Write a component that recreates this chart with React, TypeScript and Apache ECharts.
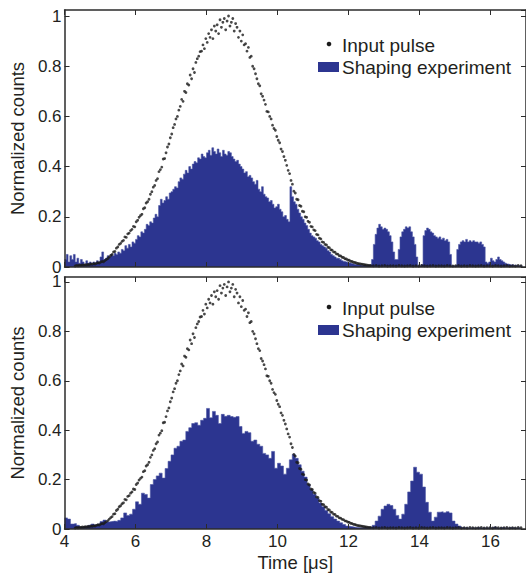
import React, { useEffect, useRef } from "react";
import * as echarts from "echarts";

// ---------- data ----------
const X_MIN = 4;
const X_MAX = 17;
const X_INTERVAL = 2;
const Y_INTERVAL = 0.2;

const xAxisTitle = "Time [μs]";
const yAxisTitle = "Normalized counts";
const legendPulse = "Input pulse";
const legendShaping = "Shaping experiment";

// Input pulse (same in both panels): samples every 0.04 μs from 4.30 μs
const pulseStart = 4.3;
const pulseStep = 0.04;
const pulseVals = [
  // 4.30 – 5.26
  0.004, 0.006, 0.005, 0.007, 0.006, 0.008, 0.007, 0.009, 0.008, 0.01, 0.009, 0.012, 0.011, 0.013, 0.012, 0.015, 0.017, 0.016, 0.02, 0.022, 0.021, 0.026, 0.03, 0.034, 0.04,
  // 5.30 – 6.26
  0.046, 0.05, 0.06, 0.062, 0.075, 0.08, 0.09, 0.094, 0.102, 0.106, 0.12, 0.118, 0.132, 0.135, 0.145, 0.15, 0.162, 0.16, 0.18, 0.186, 0.198, 0.205, 0.21, 0.232, 0.236,
  // 6.30 – 7.26
  0.255, 0.26, 0.27, 0.29, 0.3, 0.318, 0.325, 0.345, 0.352, 0.38, 0.388, 0.398, 0.43, 0.432, 0.455, 0.478, 0.49, 0.515, 0.53, 0.555, 0.568, 0.59, 0.6, 0.625, 0.64,
  // 7.30 – 8.26
  0.668, 0.66, 0.7, 0.695, 0.73, 0.725, 0.765, 0.75, 0.79, 0.775, 0.815, 0.83, 0.84, 0.858, 0.86, 0.885, 0.87, 0.91, 0.895, 0.93, 0.915, 0.945, 0.91, 0.96, 0.94,
  // 8.30 – 9.26
  0.965, 0.93, 0.985, 0.955, 0.975, 0.99, 0.945, 0.98, 1.0, 0.96, 0.975, 0.99, 0.94, 0.97, 0.955, 0.915, 0.94, 0.9, 0.925, 0.885, 0.89, 0.86, 0.875, 0.835, 0.84,
  // 9.30 – 10.26
  0.8, 0.79, 0.77, 0.75, 0.73, 0.722, 0.69, 0.68, 0.665, 0.648, 0.62, 0.618, 0.6, 0.59, 0.565, 0.552, 0.545, 0.52, 0.505, 0.495, 0.47, 0.46, 0.44, 0.425, 0.405,
  // 10.30 – 11.26
  0.385, 0.372, 0.345, 0.33, 0.302, 0.295, 0.27, 0.268, 0.245, 0.242, 0.222, 0.22, 0.2, 0.198, 0.182, 0.178, 0.162, 0.16, 0.148, 0.145, 0.13, 0.128, 0.115, 0.112, 0.1,
  // 11.30 – 12.26
  0.098, 0.09, 0.088, 0.079, 0.077, 0.069, 0.067, 0.06, 0.059, 0.052, 0.051, 0.045, 0.044, 0.039, 0.038, 0.033, 0.032, 0.028, 0.027, 0.023, 0.022, 0.019, 0.018, 0.016, 0.014,
  // 12.30 – 12.58
  0.013, 0.012, 0.011, 0.01, 0.009, 0.008, 0.007, 0.006,
];

// Input pulse baseline tail: every 0.08 μs from 12.62 μs
const tailStart = 12.62;
const tailStep = 0.08;
const tailVals = [
  0.006, 0.005, 0.006, 0.004, 0.005, 0.006, 0.004, 0.005, 0.005, 0.004, 0.006, 0.005, 0.004, 0.005, 0.006, 0.004, 0.005, 0.004, 0.006, 0.005,
  0.004, 0.005, 0.006, 0.004, 0.005, 0.005, 0.004, 0.006, 0.005, 0.004, 0.005, 0.006, 0.004, 0.005, 0.004, 0.006, 0.005, 0.004, 0.005, 0.006,
  0.004, 0.005, 0.005, 0.004, 0.006, 0.005, 0.004, 0.005, 0.006, 0.004, 0.005, 0.004, 0.006, 0.005,
];

// Top panel histogram: bins of 0.05 μs starting at 4.00 μs
const topStart = 4.0;
const topStep = 0.05;
const topHist = [
  // 4.00 – 4.95
  0.03, 0.05, 0.02, 0.045, 0.03, 0.05, 0.02, 0.035, 0.015, 0.03, 0.02, 0.01, 0.025, 0.015, 0.02, 0.01, 0.02, 0.015, 0.025, 0.02,
  // 5.00 – 5.95
  0.04, 0.06, 0.03, 0.035, 0.045, 0.04, 0.05, 0.045, 0.055, 0.05, 0.06, 0.055, 0.07, 0.065, 0.085, 0.075, 0.09, 0.08, 0.1, 0.095,
  // 6.00 – 6.95
  0.11, 0.125, 0.12, 0.14, 0.135, 0.15, 0.17, 0.165, 0.18, 0.175, 0.195, 0.21, 0.2, 0.245, 0.27, 0.255, 0.265, 0.28, 0.27, 0.295,
  // 7.00 – 7.95
  0.3, 0.31, 0.32, 0.315, 0.34, 0.355, 0.35, 0.37, 0.385, 0.375, 0.4, 0.39, 0.41, 0.42, 0.415, 0.435, 0.43, 0.45, 0.44, 0.435,
  // 8.00 – 8.95
  0.455, 0.465, 0.445, 0.475, 0.46, 0.45, 0.47, 0.455, 0.44, 0.465, 0.45, 0.445, 0.46, 0.455, 0.44, 0.43, 0.42, 0.425, 0.41, 0.4,
  // 9.00 – 9.95
  0.39, 0.375, 0.38, 0.36, 0.365, 0.355, 0.34, 0.33, 0.345, 0.31, 0.3, 0.32, 0.29, 0.28, 0.275, 0.26, 0.265, 0.25, 0.235, 0.24,
  // 10.00 – 10.95
  0.25, 0.23, 0.22, 0.2, 0.205, 0.19, 0.18, 0.32, 0.28, 0.26, 0.25, 0.23, 0.215, 0.2, 0.19, 0.175, 0.165, 0.15, 0.135, 0.125,
  // 11.00 – 11.95
  0.12, 0.115, 0.105, 0.1, 0.09, 0.085, 0.08, 0.075, 0.065, 0.06, 0.05, 0.045, 0.04, 0.035, 0.035, 0.03, 0.025, 0.022, 0.02, 0.018,
  // 12.00 – 12.95
  0.016, 0.014, 0.012, 0.01, 0.01, 0.008, 0.008, 0.006, 0.008, 0.006, 0.006, 0.008, 0.01, 0.03, 0.09, 0.13, 0.155, 0.17, 0.16, 0.15,
  // 13.00 – 13.95
  0.155, 0.15, 0.14, 0.125, 0.1, 0.06, 0.03, 0.03, 0.07, 0.12, 0.14, 0.15, 0.16, 0.155, 0.16, 0.14, 0.12, 0.09, 0.04, 0.005,
  // 14.00 – 14.95
  0.005, 0.01, 0.125, 0.145, 0.155, 0.15, 0.14, 0.135, 0.125, 0.12, 0.115, 0.12, 0.11, 0.115, 0.105, 0.11, 0.1, 0.05, 0.005, 0.005,
  // 15.00 – 15.95
  0.005, 0.07, 0.09, 0.1, 0.105, 0.1, 0.11, 0.1, 0.105, 0.1, 0.105, 0.1, 0.1, 0.095, 0.1, 0.09, 0.08, 0.02, 0.015, 0.02,
  // 16.00 – 16.90
  0.035, 0.025, 0.02, 0.03, 0.04, 0.03, 0.025, 0.02, 0.015, 0.012, 0.01, 0.008, 0.01, 0.006, 0.008, 0.005, 0.006, 0.004, 0.005,
];

// Bottom panel histogram: bins of 1/12 μs starting at 4.00 μs
const bottomStart = 4.0;
const bottomStep = 1 / 12;
const bottomHist = [
  // 4.x
  0.045, 0.04, 0.02, 0.022, 0.015, 0.008, 0.01, 0.012, 0.015, 0.02, 0.016, 0.02,
  // 5.x
  0.03, 0.036, 0.028, 0.03, 0.032, 0.03, 0.035, 0.045, 0.065, 0.055, 0.06, 0.08,
  // 6.x
  0.11, 0.1, 0.145, 0.14, 0.125, 0.18, 0.2, 0.215, 0.226, 0.206, 0.245, 0.274,
  // 7.x
  0.3, 0.327, 0.335, 0.355, 0.36, 0.395, 0.41, 0.427, 0.43, 0.42, 0.44, 0.448,
  // 8.x
  0.488, 0.45, 0.476, 0.46, 0.427, 0.464, 0.456, 0.46, 0.455, 0.452, 0.455, 0.415,
  // 9.x
  0.387, 0.395, 0.39, 0.355, 0.36, 0.343, 0.335, 0.306, 0.3, 0.286, 0.314, 0.246,
  // 10.x
  0.266, 0.255, 0.222, 0.246, 0.28, 0.302, 0.286, 0.26, 0.234, 0.21, 0.181, 0.16,
  // 11.x
  0.141, 0.125, 0.105, 0.09, 0.075, 0.062, 0.05, 0.04, 0.032, 0.025, 0.018, 0.012,
  // 12.x
  0.01, 0.008, 0.006, 0.005, 0.005, 0.006, 0.005, 0.008, 0.015, 0.032, 0.052, 0.08,
  // 13.x
  0.093, 0.1, 0.095, 0.08, 0.055, 0.04, 0.06, 0.1, 0.15, 0.194, 0.25, 0.23,
  // 14.x
  0.222, 0.17, 0.108, 0.068, 0.032, 0.048, 0.068, 0.07, 0.066, 0.07, 0.065, 0.032,
  // 15.x
  0.02, 0.012, 0.006, 0.005, 0.004, 0.005, 0.004, 0.006, 0.004, 0.005, 0.004, 0.005,
  // 16.x
  0.005, 0.008, 0.004, 0.006, 0.005, 0.004, 0.006, 0.005, 0.004, 0.005, 0.006,
];

// ---------- helpers ----------
const toPairs = (start: number, step: number, vals: number[]) =>
  vals.map((v, i) => [+(start + i * step).toFixed(4), v]);

const FONT = "'Liberation Sans', Arial, Helvetica, sans-serif";
const TEXT = "#231f20";
const AXIS = "#2b2b2b";
const BLUE = "#2c3590";
const DOT = "#1a1a1a";

const W = 526;
const H = 573;

export default function App() {
  const ref = useRef<HTMLDivElement>(null);

  useEffect(() => {
    if (!ref.current) return;
    const chart = echarts.init(ref.current, undefined, { renderer: "svg" });

    const pulseData = toPairs(pulseStart, pulseStep, pulseVals).concat(
      toPairs(tailStart, tailStep, tailVals)
    );
    const topData = toPairs(topStart, topStep, topHist);
    const bottomData = toPairs(bottomStart, bottomStep, bottomHist);

    const grids = [
      { left: 60, top: 10, width: 470, height: 257 },
      { left: 60, top: 277, width: 470, height: 253 },
    ];
    const yMaxes = [1.024, 1.02];

    const lineStyle = { color: AXIS, width: 1.5 };
    const tickStyle = { show: true, inside: true, length: 5, lineStyle: { color: AXIS, width: 1 } };

    const xAxes: any[] = [];
    const yAxes: any[] = [];
    grids.forEach((_, gi) => {
      const isBottom = gi === 1;
      xAxes.push({
        type: "value",
        gridIndex: gi,
        position: "bottom",
        min: X_MIN,
        max: X_MAX,
        interval: X_INTERVAL,
        z: 10,
        axisLine: { show: true, onZero: false, lineStyle },
        axisTick: tickStyle,
        splitLine: { show: false },
        axisLabel: {
          show: isBottom,
          showMaxLabel: false,
          margin: 4,
          color: TEXT,
          fontSize: 17,
          fontFamily: FONT,
        },
        name: isBottom ? xAxisTitle : "",
        nameLocation: "middle",
        nameGap: 24,
        nameTextStyle: { color: TEXT, fontSize: 18.5, fontFamily: FONT },
      });
      xAxes.push({
        type: "value",
        gridIndex: gi,
        position: "top",
        min: X_MIN,
        max: X_MAX,
        interval: X_INTERVAL,
        z: 10,
        axisLine: { show: true, onZero: false, lineStyle },
        axisTick: tickStyle,
        splitLine: { show: false },
        axisLabel: { show: false },
      });
      yAxes.push({
        type: "value",
        gridIndex: gi,
        position: "left",
        min: 0,
        max: yMaxes[gi],
        interval: Y_INTERVAL,
        z: 10,
        axisLine: { show: true, onZero: false, lineStyle },
        axisTick: tickStyle,
        splitLine: { show: false },
        axisLabel: {
          showMaxLabel: false,
          margin: 3,
          color: TEXT,
          fontSize: 17,
          lineHeight: 12,
          fontFamily: FONT,
        },
        name: yAxisTitle,
        nameLocation: "middle",
        nameGap: 33,
        nameTextStyle: { color: TEXT, fontSize: 18.5, fontFamily: FONT },
      });
      yAxes.push({
        type: "value",
        gridIndex: gi,
        position: "right",
        min: 0,
        max: yMaxes[gi],
        interval: Y_INTERVAL,
        z: 10,
        axisLine: { show: true, onZero: false, lineStyle },
        axisTick: tickStyle,
        splitLine: { show: false },
        axisLabel: { show: false },
      });
    });

    const histSeries = (data: number[][], axisIdx: number) => ({
      type: "line",
      name: legendShaping,
      xAxisIndex: axisIdx,
      yAxisIndex: axisIdx,
      data,
      step: "end",
      symbol: "none",
      lineStyle: { color: "#4a54a3", width: 0.6 },
      areaStyle: { color: BLUE, opacity: 1 },
      z: 2,
      silent: true,
    });
    const pulseSeries = (axisIdx: number) => ({
      type: "scatter",
      name: legendPulse,
      xAxisIndex: axisIdx,
      yAxisIndex: axisIdx,
      data: pulseData,
      symbol: "circle",
      symbolSize: 2.8,
      itemStyle: { color: DOT },
      z: 4,
      silent: true,
    });

    const legendGraphic = (dotY: number, rectY: number) => [
      { type: "circle", shape: { cx: 329, cy: dotY, r: 2.3 }, style: { fill: DOT } },
      {
        type: "text",
        x: 342,
        y: dotY + 1,
        style: { text: legendPulse, fill: TEXT, font: `19px ${FONT}`, textVerticalAlign: "middle", textAlign: "left" },
      },
      { type: "rect", shape: { x: 318, y: rectY, width: 21, height: 10 }, style: { fill: BLUE } },
      {
        type: "text",
        x: 342,
        y: rectY + 5.5,
        style: { text: legendShaping, fill: TEXT, font: `19px ${FONT}`, textVerticalAlign: "middle", textAlign: "left" },
      },
    ];

    chart.setOption({
      animation: false,
      backgroundColor: "#ffffff",
      textStyle: { fontFamily: FONT },
      grid: grids,
      xAxis: xAxes,
      yAxis: yAxes,
      series: [
        histSeries(topData, 0),
        pulseSeries(0),
        histSeries(bottomData, 2),
        pulseSeries(2),
      ],
      graphic: [...legendGraphic(44, 62), ...legendGraphic(307, 325)],
    });

    return () => chart.dispose();
  }, []);

  return (
    <div
      ref={ref}
      style={{ position: "fixed", left: 0, top: 0, width: W, height: H, background: "#fff" }}
    />
  );
}
